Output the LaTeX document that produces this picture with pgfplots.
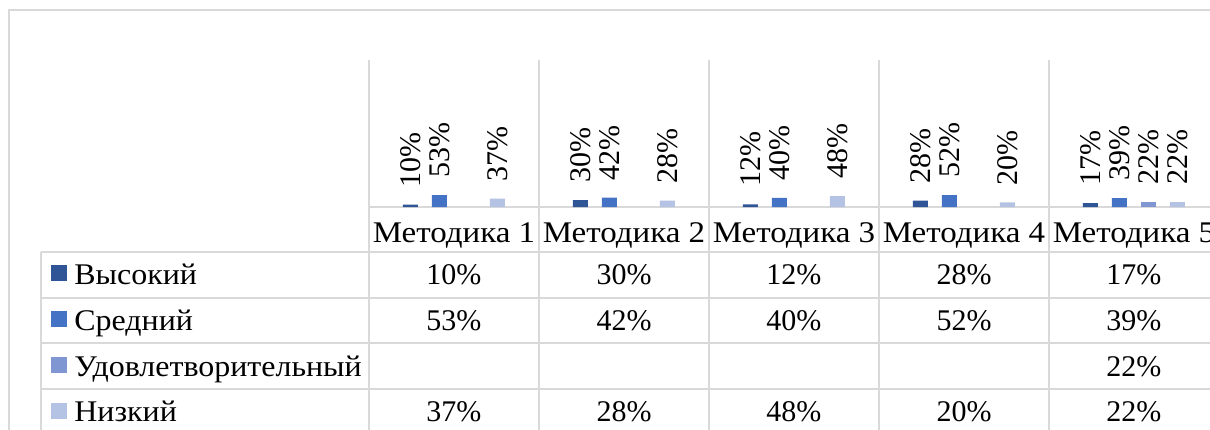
\documentclass[border=0pt]{standalone}
\usepackage{fontspec}
\setmainfont{Liberation Serif}
\newfontfamily\cyr{Liberation Serif}[FakeStretch=1.1]
\newfontfamily\cyrkey{Liberation Serif}[FakeStretch=1.065]
\usepackage{pgfplots}
\usepackage{pgfplotstable}
\pgfplotsset{compat=1.18}

\definecolor{vys}{RGB}{47,85,151}
\definecolor{sred}{RGB}{68,114,196}
\definecolor{udov}{RGB}{127,150,210}
\definecolor{niz}{RGB}{180,194,228}
\definecolor{gridgray}{RGB}{217,217,217}

% values in percent, nan = no value
\pgfplotstableread{
x vys sred udov niz
1 10 53 nan 37
2 30 42 nan 28
3 12 40 nan 48
4 28 52 nan 20
5 17 39 22 22
}\levels

\newcommand\chartfont{\fontsize{15}{18}\selectfont}

\pgfplotsset{
  barlbl/.style={
    nodes near coords={\pgfmathprintnumber{\pgfplotspointmeta}\%},
    nodes near coords style={font=\chartfont, xshift=#1, rotate=90, anchor=west,
      inner xsep=8.5pt, inner ysep=0pt},
  },
  % one row of the data table under the plot
  tblrow/.style={
    forget plot, draw=none, point meta=rawy, y filter/.expression={y*0},
    nodes near coords={\pgfmathprintnumber{\pgfplotspointmeta}\%},
    nodes near coords style={font=\chartfont, anchor=base, inner sep=0pt,
      yshift=-#1},
  },
  key/.style={legend image code/.code={\fill[#1] (0pt,-2pt) rectangle (8pt,6pt);}},
}

\begin{document}
\begin{tikzpicture}
% page = 1210 x 429 px of the reference, 1 px = 0.5pt, plot corner at origin
\useasboundingbox (-184.5pt,103.5pt) rectangle (420.5pt,-111pt);
% grid of the data table, in pixels of the reference
\begin{scope}[x=0.5pt, y=-0.5pt, shift={(-184.5pt,103.5pt)}]
  \draw[gridgray, line width=0.9pt] (9,440) -- (9,10) -- (1230,10);
  \draw[gridgray, line width=0.75pt] (369,207) -- (1230,207);
  \foreach \y in {252,298,343,389}
    \draw[gridgray, line width=0.75pt] (41,\y) -- (1230,\y);
  \draw[gridgray, line width=0.75pt] (41,252) -- (41,440);
  \foreach \x in {369,539,709,879,1049,1219}
    \draw[gridgray, line width=0.75pt] (\x,207) -- (\x,440);
\end{scope}

\begin{axis}[
  at={(0,0)}, anchor=south west,
  width=425pt, height=73.5pt, scale only axis,
  xmin=0.5, xmax=5.5, ymin=0, ymax=650,
  clip=false,
  axis line style={draw=none},
  ytick=\empty,
  xtick={1,...,5},
  xticklabels={{\cyr Методика 1},{\cyr Методика 2},{\cyr Методика 3},{\cyr Методика 4},{\cyr Методика 5}},
  major tick length=0pt, minor tick length=0pt,
  xticklabel style={font=\chartfont, anchor=base, yshift=-17.5pt, inner sep=0pt},
  minor xtick={0.5,1.5,...,5.5},
  xminorgrids, minor grid style={gridgray, line width=0.75pt},
  /pgf/number format/assume math mode=true,
  bar width=7.5pt,
  legend style={at={(axis description cs:0,0)}, anchor=north west,
    xshift=-159pt, yshift=-27.5pt, draw=none, fill=none, inner sep=0pt,
    row sep=7.9pt, font=\chartfont\cyrkey,
    nodes={inner sep=0pt, text height=11pt, text depth=4pt},
    /tikz/every odd column/.append style={column sep=3.5pt}},
  legend cell align=left,
]
\addplot[ybar, bar shift=-21.75pt, fill=vys, draw=none, barlbl=-21.75pt, key=vys]
  table[x=x, y=vys] \levels;
\addlegendentry{Высокий}
\addplot[ybar, bar shift=-7.25pt, fill=sred, draw=none, barlbl=-7.25pt, key=sred]
  table[x=x, y=sred] \levels;
\addlegendentry{Средний}
\addplot[ybar, bar shift=7.25pt, fill=udov, draw=none, barlbl=7.25pt, key=udov]
  table[x=x, y=udov] \levels;
\addlegendentry{Удовлетворительный}
\addplot[ybar, bar shift=21.75pt, fill=niz, draw=none, barlbl=21.75pt, key=niz]
  table[x=x, y=niz] \levels;
\addlegendentry{Низкий}

\addplot[tblrow=38.75pt] table[x=x, y=vys] \levels;
\addplot[tblrow=61.85pt] table[x=x, y=sred] \levels;
\addplot[tblrow=84.5pt] table[x=x, y=udov] \levels;
\addplot[tblrow=107.4pt] table[x=x, y=niz] \levels;
\end{axis}
\end{tikzpicture}
\end{document}
